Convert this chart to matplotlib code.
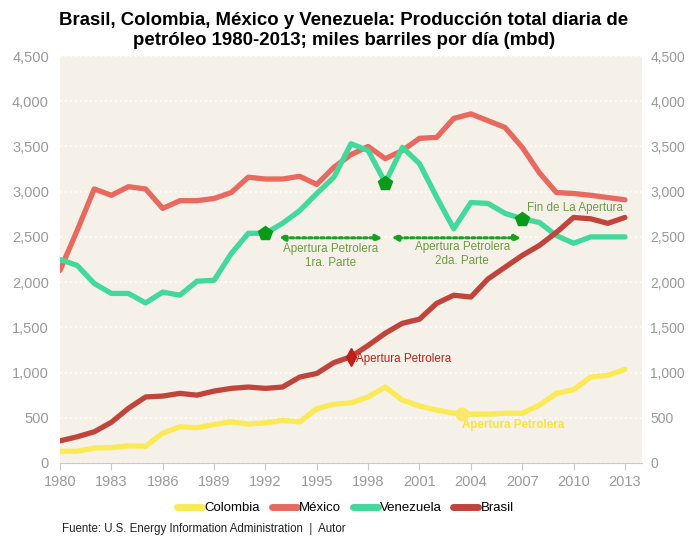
import matplotlib.pyplot as plt
from matplotlib.ticker import FuncFormatter, MultipleLocator

plt.rcParams['font.family'] = ['Liberation Sans', 'DejaVu Sans']

years = list(range(1980, 2014))

colombia = [130, 130, 165, 170, 190, 185, 330, 400, 390, 425, 455, 430, 445, 470, 455,
            600, 650, 665, 730, 840, 695, 630, 585, 550, 540, 540, 550, 550, 640, 770,
            810, 950, 970, 1035]
mexico = [2130, 2570, 3030, 2960, 3055, 3030, 2815, 2900, 2900, 2925, 2990, 3160, 3140, 3140, 3170,
          3080, 3270, 3410, 3500, 3365, 3455, 3590, 3600, 3810, 3860, 3785, 3710, 3490, 3210, 2990,
          2980, 2960, 2935, 2910]
venezuela = [2250, 2185, 1985, 1875, 1875, 1770, 1890, 1855, 2010, 2020, 2315, 2540, 2540, 2650, 2790,
             2980, 3160, 3530, 3455, 3100, 3490, 3310, 2940, 2590, 2880, 2870, 2760, 2700, 2660, 2515,
             2430, 2500, 2500, 2500]
brasil = [245, 290, 345, 450, 605, 730, 740, 770, 750, 795, 825, 840, 825, 840, 950,
          990, 1110, 1175, 1300, 1435, 1545, 1590, 1765, 1855, 1835, 2035, 2165, 2295, 2405, 2550,
          2715, 2700, 2650, 2715]

# marcadores de eventos
ven_marks_x = [1992, 1999, 2007]
ven_marks_y = [2540, 3100, 2700]
bra_mark = (1997, 1175)
col_mark = (2003.5, 545)

c_col = '#fbea55'
c_mex = '#e8695f'
c_ven = '#43d99a'
c_bra = '#c1443c'
c_note = '#6f9a45'
grey = '#9a9a9a'

fig = plt.figure(figsize=(6.88, 5.36), dpi=100)
ax = fig.add_axes([0.0872, 0.1362, 0.846, 0.7593])
ax.set_facecolor('#f5f1e8')

lw = 3.8
for vals, col, name in [(colombia, c_col, 'Colombia'), (mexico, c_mex, 'México'),
                        (venezuela, c_ven, 'Venezuela'), (brasil, c_bra, 'Brasil')]:
    ax.plot(years, vals, color=col, lw=lw, solid_joinstyle='round', solid_capstyle='round',
            label=name, zorder=3)

ax.plot(ven_marks_x, ven_marks_y, linestyle='none', marker='p', markersize=10, color='#0a9a1a', zorder=5)
ax.plot([bra_mark[0]], [bra_mark[1]], linestyle='none', marker='d', markersize=9, color='#c0201a', zorder=5)
ax.plot([col_mark[0]], [col_mark[1]], linestyle='none', marker='o', markersize=9, color='#fbe86a', zorder=5)

# flechas de apertura
arrow = dict(arrowstyle='<|-|>', color='#13a21f', linestyle=(0, (1, 1)), lw=2.2, mutation_scale=9)
ax.annotate('', xy=(1992.6, 2490), xytext=(1999.0, 2490), arrowprops=arrow, zorder=4)
ax.annotate('', xy=(1999.2, 2490), xytext=(2007.1, 2490), arrowprops=arrow, zorder=4)
ax.text(1995.8, 2290, 'Apertura Petrolera\n1ra. Parte', color=c_note, fontsize=8.4, ha='center', va='center', linespacing=1.25)
ax.text(2003.5, 2310, 'Apertura Petrolera\n2da. Parte', color=c_note, fontsize=8.4, ha='center', va='center', linespacing=1.25)
ax.text(2010.1, 2825, 'Fin de La Apertura', color=c_note, fontsize=8.4, ha='center', va='center')
ax.text(1997.3, 1155, 'Apertura Petrolera', color='#c0201a', fontsize=8.4, ha='left', va='center')
ax.text(2003.5, 420, 'Apertura Petrolera', color='#fbe33a', fontsize=8.4, ha='left', va='center', fontweight='bold')

ax.set_xlim(1980, 2014)
ax.set_ylim(0, 4500)
ax.xaxis.set_major_locator(MultipleLocator(3))
ax.yaxis.set_major_locator(MultipleLocator(500))
fmt = FuncFormatter(lambda v, p: f'{int(v):,}')
ax.yaxis.set_major_formatter(fmt)
ax.grid(axis='y', color='white', linestyle=(0, (1, 2)), lw=1.2)
ax.set_axisbelow(True)
for s in ['top', 'right', 'left']:
    ax.spines[s].set_visible(False)
ax.spines['bottom'].set_color('#c8c8c8')
ax.tick_params(axis='x', colors='#c8c8c8', labelcolor=grey, labelsize=10.5, length=5, direction='out')
ax.tick_params(axis='y', length=0, labelcolor=grey, labelsize=10.5, pad=8)

ax2 = ax.twinx()
ax2.set_ylim(0, 4500)
ax2.yaxis.set_major_locator(MultipleLocator(500))
ax2.yaxis.set_major_formatter(fmt)
ax2.tick_params(axis='y', length=0, labelcolor=grey, labelsize=10, pad=6)
for s in ax2.spines.values():
    s.set_visible(False)

fig.suptitle('Brasil, Colombia, México y Venezuela: Producción total diaria de\npetróleo 1980-2013; miles barriles por día (mbd)',
             x=0.5, y=0.977, fontsize=13.4, fontweight='bold', linespacing=1.2)

fig.legend(loc='center', bbox_to_anchor=(0.502, 0.052), ncol=4, frameon=False, fontsize=9.5,
           handlelength=1.9, handletextpad=0.15, columnspacing=0.9)
for line in fig.legends[0].get_lines():
    line.set_linewidth(5)
    line.set_solid_capstyle('round')

fig.text(0.09, 0.008, 'Fuente: U.S. Energy Information Administration  |  Autor', fontsize=8.3, color='#222222')

fig.savefig('out.png', dpi=100)
